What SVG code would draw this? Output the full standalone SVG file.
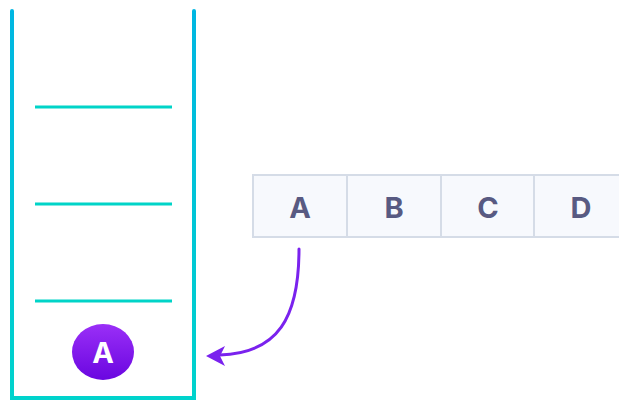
<svg xmlns="http://www.w3.org/2000/svg" width="619" height="400" viewBox="0 0 619 400">
  <defs>
    <linearGradient id="wall" x1="0" y1="10" x2="0" y2="400" gradientUnits="userSpaceOnUse">
      <stop offset="0" stop-color="#00b6e2"/>
      <stop offset="1" stop-color="#00d3cc"/>
    </linearGradient>
    <linearGradient id="ball" x1="0" y1="0" x2="0" y2="1">
      <stop offset="0" stop-color="#9a2ff7"/>
      <stop offset="1" stop-color="#6a06e0"/>
    </linearGradient>
    <style>
      .slot { stroke: #00d4c8; stroke-width: 3; }
      .cell { fill: #f7f9fd; stroke: #d5dce7; stroke-width: 2; }
      .cellText { font-family: "Inter", "Liberation Sans", sans-serif; font-weight: 700; font-size: 29px; fill: #585a82; text-anchor: middle; }
      .arrow { fill: none; stroke: #7a22ee; stroke-width: 3; stroke-linecap: round; }
    </style>
  </defs>
  <rect width="619" height="400" fill="#ffffff"/>

  <g id="stack">
    <path d="M12,11 V398 H194 V11" fill="none" stroke="url(#wall)" stroke-width="4" stroke-linecap="round" stroke-linejoin="miter"/>
    <line class="slot" x1="35" y1="107" x2="172" y2="107"/>
    <line class="slot" x1="35" y1="204" x2="172" y2="204"/>
    <line class="slot" x1="35" y1="301" x2="172" y2="301"/>
  </g>

  <g id="stack-item-A">
    <ellipse cx="103" cy="352" rx="31" ry="28" fill="url(#ball)"/>
    <text x="103" y="363" font-family="Inter, 'Liberation Sans', sans-serif" font-weight="700" font-size="29" fill="#ffffff" text-anchor="middle">A</text>
  </g>

  <g id="cell-A">
    <rect class="cell" x="253" y="175" width="94" height="62"/>
    <text class="cellText" x="300" y="217.5">A</text>
  </g>
  <g id="cell-B">
    <rect class="cell" x="347" y="175" width="94" height="62"/>
    <text class="cellText" x="394" y="217.5">B</text>
  </g>
  <g id="cell-C">
    <rect class="cell" x="441" y="175" width="93" height="62"/>
    <text class="cellText" x="488" y="217.5">C</text>
  </g>
  <g id="cell-D">
    <rect class="cell" x="534" y="175" width="94" height="62"/>
    <text class="cellText" x="581" y="217.5">D</text>
  </g>

  <g id="connectors">
    <path class="arrow" d="M299,249 C299,318 278,353 220,355"/>
    <path d="M206,356 L225,346 L220,356 L225,366 Z" fill="#7a22ee"/>
  </g>
</svg>
